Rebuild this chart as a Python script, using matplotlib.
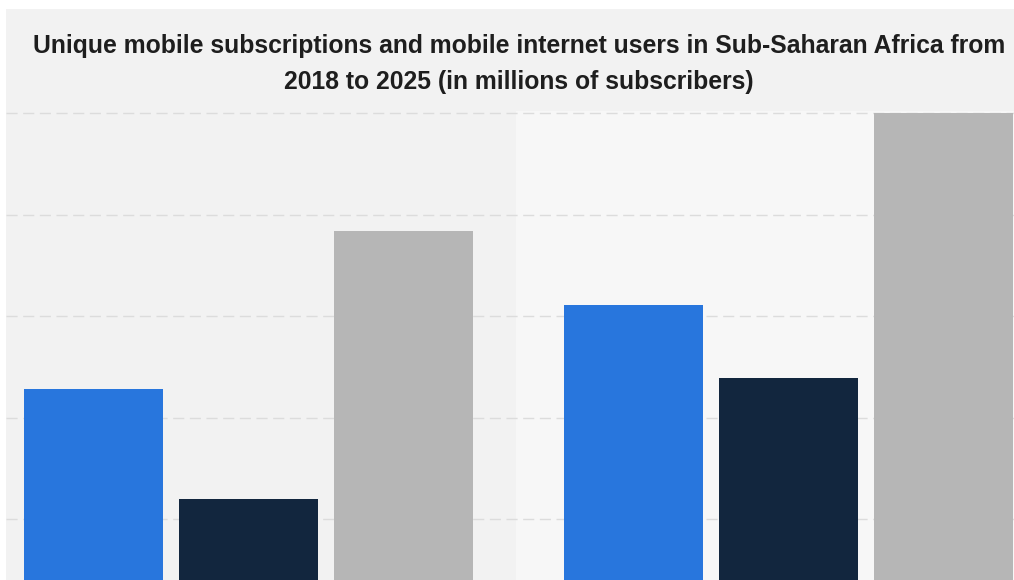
import matplotlib

matplotlib.use("Agg")
import matplotlib.pyplot as plt
import numpy as np
from matplotlib.patches import Rectangle

years = ["2018", "2025"]
unique_subscribers = [456, 621]
internet_users = [239, 478]
sim_connections = [768, 1000]

series = [unique_subscribers, internet_users, sim_connections]
colors = ["#2876dd", "#12263e", "#b6b6b6"]

W, H = 1014, 580
fig = plt.figure(figsize=(W / 100, H / 100), dpi=100, facecolor="white")

# grey card with a thin white margin on the top and left
fig.patches.append(
    Rectangle((6 / W, 0), 1 - 6 / W, 1 - 9 / H, transform=fig.transFigure,
              facecolor="#f2f2f2", edgecolor="none", zorder=-1)
)

ax = fig.add_axes([6 / W, 0, 1 - 6 / W, 1 - 111 / H])
ax.set_facecolor("#f2f2f2")

x = np.arange(len(years))
offset = 0.287
width = 0.258
for i, (vals, c) in enumerate(zip(series, colors)):
    ax.bar(x + (i - 1) * offset, vals, width=width, color=c, zorder=3)

# lighter band behind the second group
ax.axvspan(0.495, 1.5, color="#f7f7f7", zorder=0, lw=0)

ax.set_xlim(-0.449, 1.4176)
ax.set_ylim(80, 1004)
ax.set_yticks([200, 400, 600, 800, 1000])
ax.grid(axis="y", color="#dcdcdc", linestyle=(0, (8, 4)), linewidth=1.0, zorder=1)
ax.tick_params(left=False, bottom=False, labelleft=False, labelbottom=False)
for s in ax.spines.values():
    s.set_visible(False)

title_kw = dict(ha="center", va="center", fontsize=17.8, fontweight="bold",
                family="Liberation Sans", color="#1e1e1e")
fig.text(519 / W, 1 - 46 / H,
         "Unique mobile subscriptions and mobile internet users in Sub-Saharan Africa from",
         **title_kw)
fig.text(519 / W, 1 - 82 / H, "2018 to 2025 (in millions of subscribers)", **title_kw)

fig.savefig("out.png", dpi=100, facecolor=fig.get_facecolor())
